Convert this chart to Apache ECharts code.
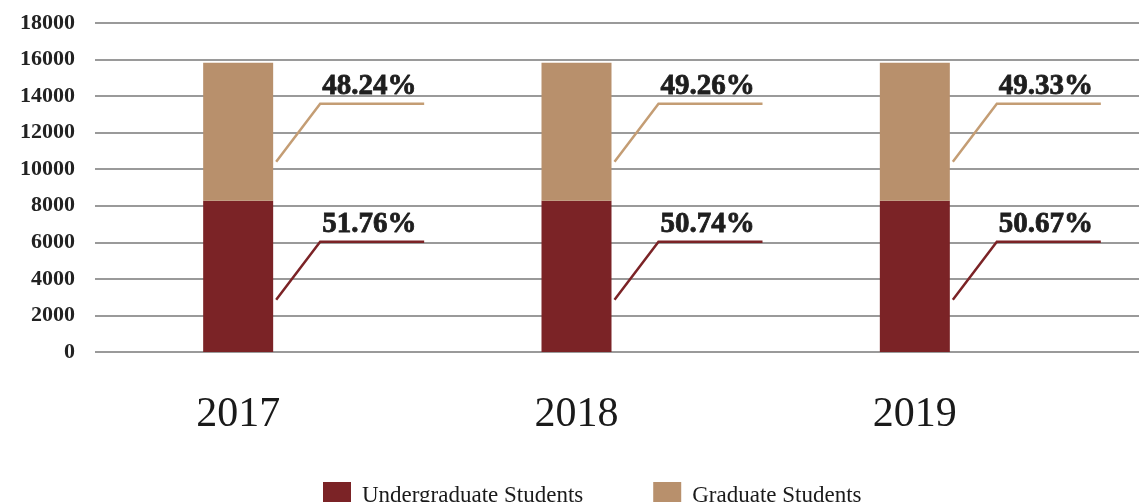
<!DOCTYPE html>
<html>
<head>
<meta charset="utf-8">
<script src="https://cdn.jsdelivr.net/npm/echarts@6/dist/echarts.min.js"></script>
<style>
html,body{margin:0;padding:0;background:#fff;}
#chart{width:1139px;height:502px;}
</style>
</head>
<body>
<div id="chart"></div>
<script>
const years = ['2017', '2018', '2019'];
const undergraduate = [8280, 8280, 8280];
const graduate = [7550, 7550, 7550];
const undergradPct = ['51.76%', '50.74%', '50.67%'];
const gradPct = ['48.24%', '49.26%', '49.33%'];
const yTicks = { min: 0, max: 18000, interval: 2000 };

const FONT = '"Liberation Serif", "Times New Roman", serif';
const C_UNDER = '#7B2326';
const C_GRAD = '#B8906C';
const C_GRAD_LINE = '#C49D74';

const tops = {
  under: undergraduate.map(v => v),
  grad: undergraduate.map((v, i) => v + graduate[i])
};

function leaderSeries(name, topValues, labels, lineColor) {
  return {
    type: 'custom',
    xAxisIndex: 1, yAxisIndex: 1,
    silent: true,
    z: 10,
    data: topValues.map((v, i) => [i, v]),
    renderItem: function (params, api) {
      const p = api.coord([api.value(0), api.value(1)]);
      const barRight = p[0] + 35;
      const start = [barRight + 3, p[1] + 99];
      const corner = [barRight + 47, p[1] + 41];
      const end = [barRight + 151, p[1] + 41];
      return {
        type: 'group',
        children: [
          {
            type: 'polyline',
            shape: { points: [start, corner, end] },
            style: { stroke: lineColor, lineWidth: 2.5, fill: null }
          },
          {
            type: 'text',
            style: {
              x: barRight + 49, y: p[1] + 38,
              text: labels[params.dataIndex],
              fontSize: 29,
              fontWeight: 'bold',
              fontFamily: FONT,
              fill: '#1e1e1e',
              stroke: '#1e1e1e', lineWidth: 0.8,
              align: 'left', verticalAlign: 'bottom'
            }
          }
        ]
      };
    }
  };
}

const chart = echarts.init(document.getElementById('chart'));
chart.setOption({
  backgroundColor: '#fff',
  animation: false,
  grid: [
    { left: 95, right: 0, top: 23, bottom: 150 },
    { left: 69, right: 55, top: 23, bottom: 150 }
  ],
  xAxis: [
    { type: 'category', gridIndex: 0, data: years, show: false },
    {
      type: 'category', gridIndex: 1, data: years,
      axisLine: { show: false }, axisTick: { show: false },
      axisLabel: { fontFamily: FONT, fontSize: 42, color: '#1a1a1a', margin: 42 }
    }
  ],
  yAxis: [
    {
      type: 'value', gridIndex: 0, min: yTicks.min, max: yTicks.max, interval: yTicks.interval,
      axisLine: { show: false }, axisTick: { show: false },
      axisLabel: {
        fontFamily: FONT, fontSize: 22, fontWeight: 'bold', color: '#222', margin: 20,
        formatter: v => String(v)
      },
      splitLine: { lineStyle: { color: '#9a9a9a', width: 2 } }
    },
    {
      type: 'value', gridIndex: 1, min: yTicks.min, max: yTicks.max, interval: yTicks.interval,
      show: false, splitLine: { show: false }
    }
  ],
  legend: {
    data: ['Undergraduate Students', 'Graduate Students'],
    left: 318, top: 477,
    icon: 'rect', itemWidth: 28, itemHeight: 28, itemGap: 70,
    textStyle: { fontFamily: FONT, fontSize: 23, color: '#1a1a1a', padding: [0, 0, 0, 6] }
  },
  series: [
    {
      name: 'Undergraduate Students', type: 'bar', stack: 'total',
      xAxisIndex: 1, yAxisIndex: 1, barWidth: 70,
      itemStyle: { color: C_UNDER },
      data: undergraduate
    },
    {
      name: 'Graduate Students', type: 'bar', stack: 'total',
      xAxisIndex: 1, yAxisIndex: 1, barWidth: 70,
      itemStyle: { color: C_GRAD },
      data: graduate
    },
    leaderSeries('gradLabels', tops.grad, gradPct, C_GRAD_LINE),
    leaderSeries('underLabels', tops.under, undergradPct, C_UNDER)
  ]
});
</script>
</body>
</html>
